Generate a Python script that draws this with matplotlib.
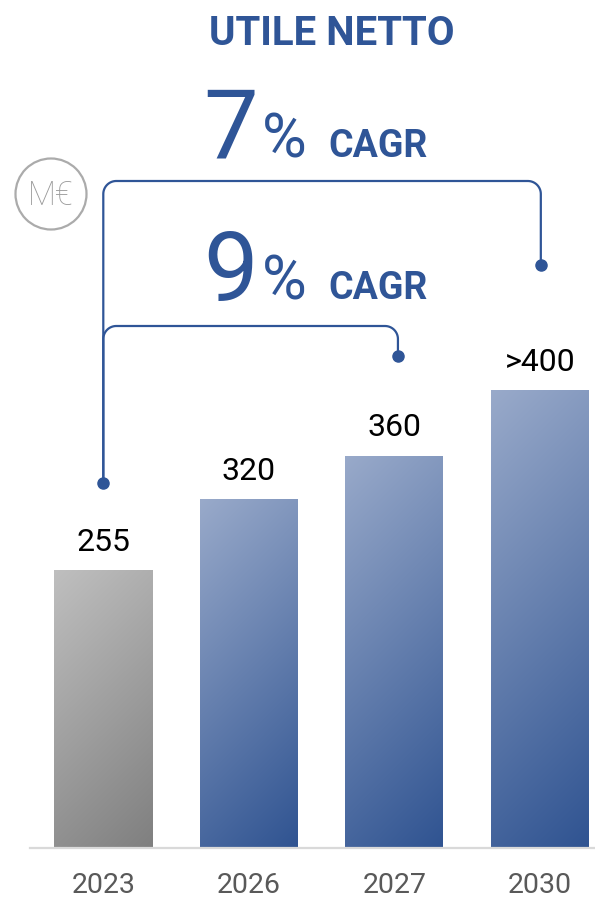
import numpy as np
import matplotlib
matplotlib.use("Agg")
import matplotlib.pyplot as plt
from matplotlib.transforms import IdentityTransform
from matplotlib.patches import Circle

plt.rcParams['font.family'] = ['Roboto', 'DejaVu Sans']

# data
years = ["2023", "2026", "2027", "2030"]
values = [255, 320, 360, 420]
labels = ["255", "320", "360", ">400"]
cagr_outer = "7"
cagr_inner = "9"

BLUE = "#2F5597"
W, H = 595, 897


def fx(px):
    return px / W


def fy(py):
    return 1 - py / H


def lerp(c0, c1, t):
    c0 = np.array(matplotlib.colors.to_rgb(c0))
    c1 = np.array(matplotlib.colors.to_rgb(c1))
    return c0[None, None, :] * (1 - t[..., None]) + c1[None, None, :] * t[..., None]


def gradient_bar(ax, bar, c0, c1):
    x0, w, h = bar.get_x(), bar.get_width(), bar.get_height()
    p0 = ax.transData.transform((x0, 0))
    p1 = ax.transData.transform((x0 + w, h))
    nx, ny = max(int(p1[0] - p0[0]), 2), max(int(p1[1] - p0[1]), 2)
    xx, yy = np.meshgrid(np.arange(nx), np.arange(ny))
    t = (xx + yy) / (nx + ny)
    img = lerp(c0, c1, t)
    im = ax.imshow(img, extent=[x0, x0 + w, 0, h], origin="upper",
                   aspect="auto", interpolation="bilinear", zorder=2)
    im.set_clip_path(bar)


def bracket(ax, i0, i1, y_top, y0, y1, r=13, dots=(True, True)):
    tr = ax.transData
    x0p, y0p = tr.transform((i0, y0))
    x1p, y1p = tr.transform((i1, y1))
    _, ytp = tr.transform((i0, y_top))
    a1 = np.linspace(np.pi, np.pi / 2, 20)
    a2 = np.linspace(np.pi / 2, 0, 20)
    xs = np.concatenate([[x0p], x0p + r + r * np.cos(a1), x1p - r + r * np.cos(a2), [x1p]])
    ys = np.concatenate([[y0p], ytp - r + r * np.sin(a1), ytp - r + r * np.sin(a2), [y1p]])
    ax.plot(xs, ys, color=BLUE, lw=1.6, transform=IdentityTransform(),
            clip_on=False, solid_capstyle="round", zorder=5)
    ends = [(x0p, y0p), (x1p, y1p)]
    for (ex, ey), d in zip(ends, dots):
        if d:
            ax.plot([ex], [ey], "o", color=BLUE, ms=8, transform=IdentityTransform(),
                    clip_on=False, zorder=6)


fig = plt.figure(figsize=(W / 100, H / 100), dpi=100)
k = 1.09  # px per value unit
base = 848
ax = fig.add_axes([fx(30), fy(base), 1 - fx(30), base / H])
pitch = 145.5
ax.set_xlim(-(103.3 - 30) / pitch, (595 - 103.3) / pitch)
ax.set_ylim(0, base / k)

x = np.arange(len(years))
bars = ax.bar(x, values, width=98 / pitch, color="#7F90B8", zorder=1)
for i, b in enumerate(bars):
    if i == 0:
        gradient_bar(ax, b, "#BFBFBF", "#7F7F7F")
    else:
        gradient_bar(ax, b, "#99AACA", "#2F5391")

for xi, v, lab in zip(x, values, labels):
    ax.annotate(lab, (xi, v), xytext=(0, 14), textcoords="offset points",
                ha="center", va="baseline", fontsize=23, color="black")

for s in ["top", "right", "left"]:
    ax.spines[s].set_visible(False)
ax.spines["bottom"].set_color("#D9D9D9")
ax.spines["bottom"].set_linewidth(1.6)
ax.set_yticks([])
ax.set_xticks(x)
ax.set_xticklabels(years, fontsize=20.5, color="#595959")
ax.tick_params(axis="x", length=0, pad=17)

# brackets (heights in value units)
bracket(ax, 0, 3.007, (base - 181) / k, (base - 483) / k, (base - 265) / k)
bracket(ax, 0, 2.025, (base - 326) / k, (base - 483) / k, (base - 356) / k, dots=(False, True))

# title and CAGR labels
fig.text(fx(332), fy(45), "UTILE NETTO", ha="center", va="baseline",
         fontsize=29, fontweight="bold", color=BLUE)
for num, yb in [(cagr_outer, 159), (cagr_inner, 301)]:
    fig.text(fx(258), fy(yb), num, ha="right", va="baseline", fontsize=70, color=BLUE)
    fig.text(fx(262), fy(yb - 1), "%", ha="left", va="baseline", fontsize=44, color=BLUE)
    fig.text(fx(328), fy(yb - 2), "CAGR", ha="left", va="baseline", fontsize=27,
             fontweight="bold", color=BLUE)

# unit badge
badge = Circle((51, H - 194), 35.5, transform=IdentityTransform(),
               fill=False, ec="#ABABAB", lw=1.6)
fig.add_artist(badge)
fig.text(fx(51), fy(205), "M€", ha="center", va="baseline", fontsize=23.5,
         fontweight="light", color="#9A9A9A")

fig.savefig("out.png", dpi=100)
